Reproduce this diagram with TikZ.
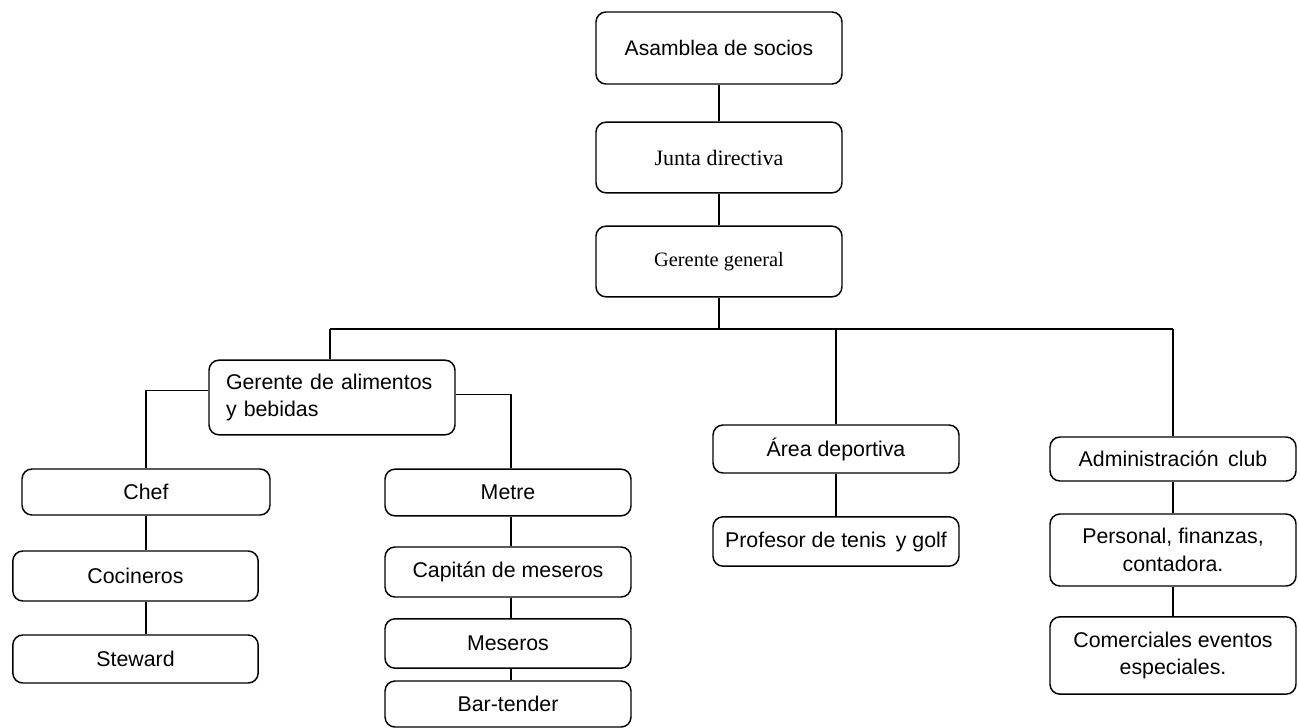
\documentclass[tikz,border=0pt]{standalone}
\usepackage{fontspec}
\setmainfont{Liberation Sans}
\newfontfamily\tms{Liberation Serif}
\begin{document}
\begin{tikzpicture}[x=0.75pt,y=-0.75pt,
  box/.style={draw,line width=1.1pt,rounded corners=7.5pt,inner sep=0pt,
    minimum width=184.5pt,font=\fontsize{16}{20.5}\selectfont,align=center},
  link/.style={line width=0.8pt}]
\useasboundingbox (0,0) rectangle (1300,728);
% top chain
\node[box,minimum height=54pt,font=\fontsize{15.8}{20}\selectfont] (asm) at (719,48) {Asamblea de socios};
\node[box,minimum height=53pt,font=\tms\fontsize{16.5}{20}\selectfont] (junta) at (719,157.5) {Junta directiva};
\node[box,minimum height=53pt,font=\tms\fontsize{15.3}{18}\selectfont] (gg) at (719,261.5) {Gerente general};
% second level
\node[box,minimum height=56pt,align=left,text width=159pt,inner xsep=12.75pt] (gab) at (332,397.5) {Gerente de alimentos\\y bebidas};
\node[box,minimum height=36pt] (area) at (836,449) {Área deportiva};
\node[box,minimum height=33pt] (adm) at (1173,459) {Administración\, club};
% food and drinks
\node[box,minimum width=186pt,minimum height=34.5pt] (chef) at (146,492) {Chef};
\node[box,minimum width=184pt,minimum height=37.5pt] (coc) at (135.5,576) {Cocineros};
\node[box,minimum width=184pt,minimum height=36pt] (stew) at (135.5,659) {Steward};
\node[box,minimum height=35pt] (metre) at (508,492.5) {Metre};
\node[box,minimum height=37.5pt] (cap) at (508,572) {Capitán de meseros};
\node[box,minimum height=37pt] (mes) at (508,643.5) {Meseros};
\node[box,minimum height=34.5pt] (bar) at (508,704) {Bar-tender};
% sports
\node[box,minimum height=37pt] (prof) at (836,541.5) {Profesor de tenis\, y golf};
% administration
\node[box,minimum height=54pt] (pers) at (1173,550) {Personal, finanzas,\\contadora.};
\node[box,minimum height=58pt] (com) at (1173,655.5) {Comerciales eventos\\especiales.};
% connectors
\coordinate (busL) at (330,329);
\coordinate (busR) at (1173,329);
\draw[link] (asm) -- (junta);
\draw[link] (junta) -- (gg);
\draw[link] (gg.south) -- (gg.south |- busL);
\draw[link] (busL) -- (busR);
\draw[link] (busL) -- (busL |- gab.north);
\draw[link] (area.north) -- (area.north |- busL);
\draw[link] (busR) -- (busR |- adm.north);
\draw[link] ([yshift=5pt]gab.west) -| (chef.north);
\draw[link] ([yshift=2pt]gab.east) -| ([xshift=2.25pt]metre.north);
\draw[link] (chef.south) -- (chef.south |- coc.north);
\draw[link] (coc.south -| chef.south) -- (chef.south |- stew.north);
\draw[link] ([xshift=2.25pt]metre.south) -- ([xshift=2.25pt]cap.north);
\draw[link] ([xshift=2.25pt]cap.south) -- ([xshift=2.25pt]mes.north);
\draw[link] ([xshift=2.25pt]mes.south) -- ([xshift=2.25pt]bar.north);
\draw[link] (area) -- (prof);
\draw[link] (adm) -- (pers);
\draw[link] (pers) -- (com);
\end{tikzpicture}
\end{document}
